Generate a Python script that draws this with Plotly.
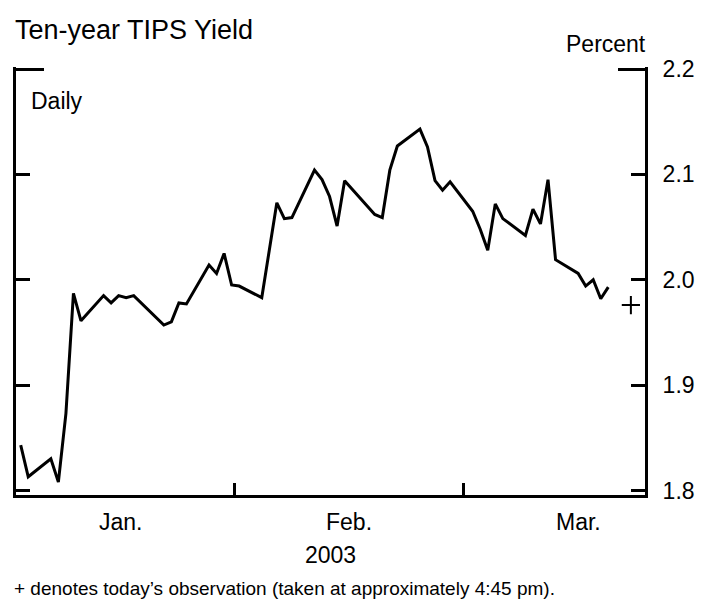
import pandas as pd
import plotly.graph_objects as go

# ---- data ----
dates = [
    "2003-01-02", "2003-01-03", "2003-01-06", "2003-01-07", "2003-01-08", "2003-01-09", "2003-01-10",
    "2003-01-13", "2003-01-14", "2003-01-15", "2003-01-16", "2003-01-17",
    "2003-01-21", "2003-01-22", "2003-01-23", "2003-01-24",
    "2003-01-27", "2003-01-28", "2003-01-29", "2003-01-30", "2003-01-31",
    "2003-02-03", "2003-02-04", "2003-02-05", "2003-02-06", "2003-02-07",
    "2003-02-10", "2003-02-11", "2003-02-12", "2003-02-13", "2003-02-14",
    "2003-02-18", "2003-02-19", "2003-02-20", "2003-02-21",
    "2003-02-24", "2003-02-25", "2003-02-26", "2003-02-27", "2003-02-28",
    "2003-03-03", "2003-03-04", "2003-03-05", "2003-03-06", "2003-03-07",
    "2003-03-10", "2003-03-11", "2003-03-12", "2003-03-13", "2003-03-14",
    "2003-03-17", "2003-03-18", "2003-03-19", "2003-03-20", "2003-03-21",
]
yields = [
    1.843, 1.813, 1.830, 1.808, 1.873, 1.987, 1.961,
    1.985, 1.978, 1.985, 1.983, 1.985,
    1.957, 1.960, 1.978, 1.977,
    2.014, 2.006, 2.025, 1.995, 1.994,
    1.983, 2.028, 2.073, 2.058, 2.059,
    2.104, 2.095, 2.079, 2.051, 2.094,
    2.062, 2.059, 2.104, 2.127,
    2.143, 2.126, 2.094, 2.085, 2.093,
    2.065, 2.048, 2.028, 2.072, 2.058,
    2.042, 2.067, 2.053, 2.095, 2.019,
    2.006, 1.994, 2.000, 1.982, 1.993,
]
today_date = ["2003-03-24"]
today_value = [1.976]

month_labels = ["Jan.", "Feb.", "Mar."]
y_ticks = [1.8, 1.9, 2.0, 2.1, 2.2]
y_ticktext = ["1.8", "1.9", "2.0", "2.1", "2.2"]

title_text = "Ten-year TIPS Yield"
unit_text = "Percent"
freq_text = "Daily"
year_text = "2003"
note_text = "+ denotes today\u2019s observation (taken at approximately 4:45 pm)."

# month positions: each month is 1/12 of a year
base = pd.Timestamp("2002-12-31")
month_len = pd.Timedelta(days=365 / 12)
month_bounds = [base + month_len * k for k in (1, 2)]
month_centers = [base + month_len * (k + 0.5) for k in range(len(month_labels))]

x_range = ["2003-01-01 09:00", "2003-03-25 21:00"]
y_range = [1.79573, 2.2019]

FONT = "Liberation Sans, Arial, sans-serif"

fig = go.Figure()
fig.add_trace(go.Scatter(
    x=dates, y=yields, mode="lines",
    line=dict(color="black", width=3),
    showlegend=False, hoverinfo="skip",
))
fig.add_trace(go.Scatter(
    x=today_date, y=today_value, mode="markers", yaxis="y2",
    marker=dict(symbol="cross-thin", size=13, color="black",
                line=dict(color="black", width=2)),
    showlegend=False, hoverinfo="skip", cliponaxis=False,
))
# invisible carriers so that the overlay tick axes are drawn
for ax in ("y3", "y4"):
    fig.add_trace(go.Scatter(
        x=today_date, y=today_value, mode="markers", yaxis=ax,
        marker=dict(opacity=0), showlegend=False, hoverinfo="skip",
    ))

axis_common = dict(showgrid=False, zeroline=False, linecolor="black", tickcolor="black")

fig.update_layout(
    width=704, height=591,
    margin=dict(l=8, r=67, t=59, b=104),
    paper_bgcolor="white", plot_bgcolor="white",
    font=dict(family=FONT, color="black", size=23),
    xaxis=dict(
        type="date", range=x_range, showline=True, linewidth=3,
        ticks="inside", tickvals=month_bounds, ticklen=12, tickwidth=3,
        showticklabels=False, **axis_common,
    ),
    yaxis=dict(
        range=y_range, side="left", showline=True, linewidth=3,
        ticks="inside", tickvals=y_ticks[:-1], ticklen=14, tickwidth=3,
        showticklabels=False, **axis_common,
    ),
    yaxis2=dict(
        range=y_range, overlaying="y", side="right", anchor="x",
        showline=True, linewidth=3,
        ticks="inside", tickvals=y_ticks, ticktext=y_ticktext,
        ticklen=14, tickwidth=3, ticklabelstandoff=10,
        tickfont=dict(size=23, family=FONT, color="black"),
        **axis_common,
    ),
    yaxis3=dict(
        range=y_range, overlaying="y", side="left", anchor="x",
        showline=False, ticks="inside", tickvals=[y_ticks[-1]],
        ticklen=28, tickwidth=3, showticklabels=False, **axis_common,
    ),
    yaxis4=dict(
        range=y_range, overlaying="y", side="right", anchor="x",
        showline=False, ticks="inside", tickvals=[y_ticks[-1]],
        ticklen=27, tickwidth=3, showticklabels=False, **axis_common,
    ),
)

# paper coordinates: plot area is 428 px tall, 629 px wide
annotations = [
    dict(text=title_text, xref="paper", yref="paper", x=-0.0048, y=1.0864,
         xanchor="left", yanchor="middle", showarrow=False,
         font=dict(size=27, family=FONT, color="black")),
    dict(text=unit_text, xref="paper", yref="paper", x=1.0048, y=1.0544,
         xanchor="right", yanchor="middle", showarrow=False,
         font=dict(size=23, family=FONT, color="black")),
    dict(text=freq_text, xref="paper", yref="paper", x=0.0207, y=0.9206,
         xanchor="left", yanchor="middle", showarrow=False,
         font=dict(size=23, family=FONT, color="black")),
    dict(text=year_text, xref="paper", yref="paper", x=0.5, y=-0.1402,
         xanchor="center", yanchor="middle", showarrow=False,
         font=dict(size=23, family=FONT, color="black")),
    dict(text=note_text, xref="paper", yref="paper", x=-0.0064, y=-0.2173,
         xanchor="left", yanchor="middle", showarrow=False,
         font=dict(size=19, family=FONT, color="black")),
]
for lbl, pos in zip(month_labels, month_centers):
    annotations.append(dict(
        text=lbl, xref="x", yref="paper", x=pos, y=-0.0624,
        xanchor="center", yanchor="middle", showarrow=False,
        font=dict(size=23, family=FONT, color="black")))
fig.update_layout(annotations=annotations)

fig.write_html("out.html")
